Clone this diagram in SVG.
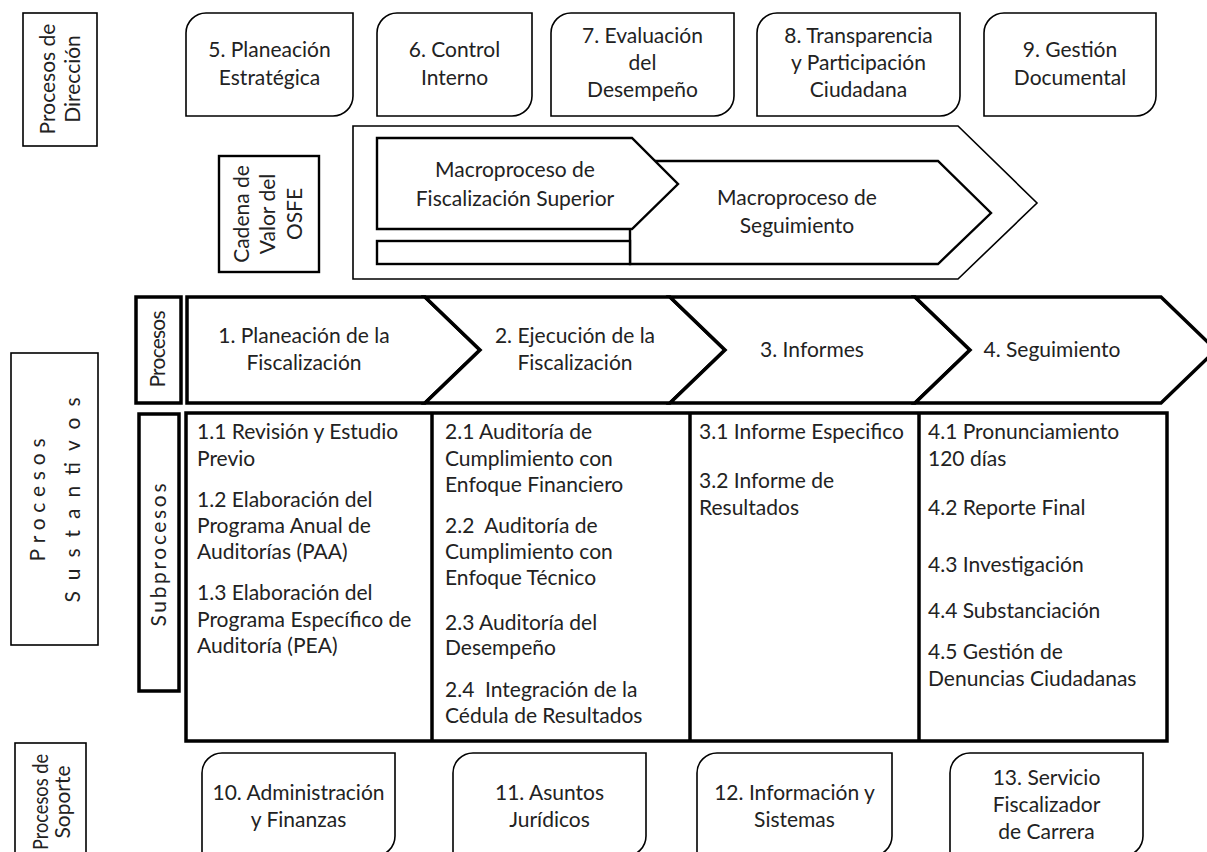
<svg xmlns="http://www.w3.org/2000/svg" width="1207" height="852" viewBox="0 0 1207 852">
<style>
text{font-family:Lato,"Noto Sans","Liberation Sans",sans-serif;fill:#222;font-size:21px}
.c{text-anchor:middle}
.thin{fill:#fff;stroke:#000;stroke-width:1.6}
.mid{fill:#fff;stroke:#000;stroke-width:2.4}
.thick{fill:#fff;stroke:#000;stroke-width:3.5;stroke-linejoin:miter}
.line{stroke:#000;stroke-width:3.5;fill:none}
</style>
<rect width="1207" height="852" fill="#fff"/>

<!-- Row labels -->
<g id="lbl-direccion">
<rect class="thin" x="23" y="13" width="74" height="133"/>
<g transform="translate(61,79) rotate(-90)"><text class="c" x="0" y="-6" font-size="18.5">Procesos de</text><text class="c" x="0" y="19" font-size="18.5">Dirección</text></g>
</g>
<g id="lbl-cadena">
<rect class="mid" x="219" y="156" width="100" height="116"/>
<g transform="translate(269,214) rotate(-90)"><text class="c" y="-20" font-size="20">Cadena de</text><text class="c" y="6" font-size="20">Valor del</text><text class="c" y="33" font-size="20">OSFE</text></g>
</g>
<g id="lbl-sustantivos">
<rect class="thin" x="11" y="353" width="87" height="292"/>
<g transform="translate(55,500) rotate(-90)"><text class="c" y="-10" font-size="20" textLength="123" lengthAdjust="spacing">Procesos</text><text class="c" y="25" font-size="20" textLength="205" lengthAdjust="spacing">Sustantivos</text></g>
</g>
<g id="lbl-procesos">
<rect class="thick" x="136" y="297" width="45" height="106"/>
<g transform="translate(159,349) rotate(-90)"><text class="c" y="6" font-size="19" textLength="77" lengthAdjust="spacing">Procesos</text></g>
</g>
<g id="lbl-subprocesos">
<rect class="thick" x="139" y="414" width="40" height="277"/>
<g transform="translate(160,555) rotate(-90)"><text class="c" y="6" font-size="19" textLength="143" lengthAdjust="spacing">Subprocesos</text></g>
</g>
<g id="lbl-soporte">
<rect class="thin" x="15" y="743" width="71" height="120"/>
<g transform="translate(51,802) rotate(-90)"><text class="c" y="-3" font-size="17" textLength="96" lengthAdjust="spacingAndGlyphs">Procesos de</text><text class="c" y="19" font-size="17">Soporte</text></g>
</g>

<!-- Direction processes -->
<g id="n5"><path class="thin" d="M206 13H353V96A20 20 0 0 1 333 116H186V33A20 20 0 0 1 206 13Z"/>
<text class="c" x="269.5" y="57">5. Planeación</text><text class="c" x="269.5" y="85">Estratégica</text></g>
<g id="n6"><path class="thin" d="M397 13H532V96A20 20 0 0 1 512 116H377V33A20 20 0 0 1 397 13Z"/>
<text class="c" x="454.5" y="57">6. Control</text><text class="c" x="454.5" y="85">Interno</text></g>
<g id="n7"><path class="thin" d="M571 13H734V96A20 20 0 0 1 714 116H551V33A20 20 0 0 1 571 13Z"/>
<text class="c" x="642.5" y="43">7. Evaluación</text><text class="c" x="642.5" y="70">del</text><text class="c" x="642.5" y="97">Desempeño</text></g>
<g id="n8"><path class="thin" d="M777 13H960V96A20 20 0 0 1 940 116H757V33A20 20 0 0 1 777 13Z"/>
<text class="c" x="858.5" y="43">8. Transparencia</text><text class="c" x="858.5" y="70">y Participación</text><text class="c" x="858.5" y="97">Ciudadana</text></g>
<g id="n9"><path class="thin" d="M1004 13H1156V96A20 20 0 0 1 1136 116H984V33A20 20 0 0 1 1004 13Z"/>
<text class="c" x="1070" y="57">9. Gestión</text><text class="c" x="1070" y="85">Documental</text></g>

<!-- Value chain -->
<g id="cadena">
<polygon class="thin" points="353,126 958,126 1037,203 958,279 353,279"/>
</g>
<g id="macro-seguimiento">
<polygon class="mid" stroke-width="2" points="630,161 938,161 991,213 938,264 630,264"/>
<text class="c" x="797" y="205">Macroproceso de</text><text class="c" x="797" y="233">Seguimiento</text>
</g>
<g id="macro-bar"><rect class="mid" stroke-width="2" x="377" y="241" width="253" height="23"/></g>
<g id="macro-fiscalizacion">
<polygon class="mid" stroke-width="2" points="377,138 632,138 678,184 632,229 377,229"/>
<text class="c" x="515" y="177">Macroproceso de</text><text class="c" x="515" y="206">Fiscalización Superior</text>
</g>

<!-- Processes row -->
<g id="p1"><polygon class="thick" points="187,297 425,297 480,350 425,403 187,403"/>
<text class="c" x="304" y="343">1. Planeación de la</text><text class="c" x="304" y="370">Fiscalización</text></g>
<g id="p2"><polygon class="thick" points="425,297 670,297 725,350 670,403 425,403 480,350"/>
<text class="c" x="575" y="343">2. Ejecución de la</text><text class="c" x="575" y="370">Fiscalización</text></g>
<g id="p3"><polygon class="thick" points="670,297 915,297 970,350 915,403 670,403 725,350"/>
<text class="c" x="812" y="357">3. Informes</text></g>
<g id="p4"><polygon class="thick" points="915,297 1161,297 1216,350 1161,403 915,403 970,350"/>
<text class="c" x="1052" y="357">4. Seguimiento</text></g>

<!-- Subprocesses grid -->
<g id="grid">
<rect class="thick" x="186" y="413" width="981" height="328"/>
<line class="line" x1="432" y1="413" x2="432" y2="741"/>
<line class="line" x1="690" y1="413" x2="690" y2="741"/>
<line class="line" x1="919" y1="413" x2="919" y2="741"/>
</g>
<g id="s1">
<text x="197" y="439">1.1 Revisión y Estudio</text><text x="197" y="466">Previo</text>
<text x="197" y="507">1.2 Elaboración del</text><text x="197" y="533">Programa Anual de</text><text x="197" y="559">Auditorías (PAA)</text>
<text x="197" y="600">1.3 Elaboración del</text><text x="197" y="627">Programa Específico de</text><text x="197" y="653">Auditoría (PEA)</text>
</g>
<g id="s2">
<text x="445" y="439">2.1 Auditoría de</text><text x="445" y="466">Cumplimiento con</text><text x="445" y="492">Enfoque Financiero</text>
<text x="445" y="533" xml:space="preserve">2.2  Auditoría de</text><text x="445" y="559">Cumplimiento con</text><text x="445" y="585">Enfoque Técnico</text>
<text x="445" y="630">2.3 Auditoría del</text><text x="445" y="655">Desempeño</text>
<text x="445" y="697" xml:space="preserve">2.4  Integración de la</text><text x="445" y="723">Cédula de Resultados</text>
</g>
<g id="s3">
<text x="699" y="439">3.1 Informe Especifico</text>
<text x="699" y="488">3.2 Informe de</text><text x="699" y="515">Resultados</text>
</g>
<g id="s4">
<text x="928" y="439">4.1 Pronunciamiento</text><text x="928" y="466">120 días</text>
<text x="928" y="515">4.2 Reporte Final</text>
<text x="928" y="572">4.3 Investigación</text>
<text x="928" y="618">4.4 Substanciación</text>
<text x="928" y="659">4.5 Gestión de</text><text x="928" y="686">Denuncias Ciudadanas</text>
</g>

<!-- Support processes -->
<g id="n10"><path class="thin" d="M222 753H395V836A20 20 0 0 1 375 856H202V773A20 20 0 0 1 222 753Z"/>
<text class="c" x="298.5" y="800">10. Administración</text><text class="c" x="298.5" y="827">y Finanzas</text></g>
<g id="n11"><path class="thin" d="M473 753H646V836A20 20 0 0 1 626 856H453V773A20 20 0 0 1 473 753Z"/>
<text class="c" x="549.5" y="800">11. Asuntos</text><text class="c" x="549.5" y="827">Jurídicos</text></g>
<g id="n12"><path class="thin" d="M717 753H892V836A20 20 0 0 1 872 856H697V773A20 20 0 0 1 717 753Z"/>
<text class="c" x="794.5" y="800">12. Información y</text><text class="c" x="794.5" y="827">Sistemas</text></g>
<g id="n13"><path class="thin" d="M970 753H1143V836A20 20 0 0 1 1123 856H950V773A20 20 0 0 1 970 753Z"/>
<text class="c" x="1046.5" y="785">13. Servicio</text><text class="c" x="1046.5" y="812">Fiscalizador</text><text class="c" x="1046.5" y="839">de Carrera</text></g>

<g id="connectors"></g>
</svg>
